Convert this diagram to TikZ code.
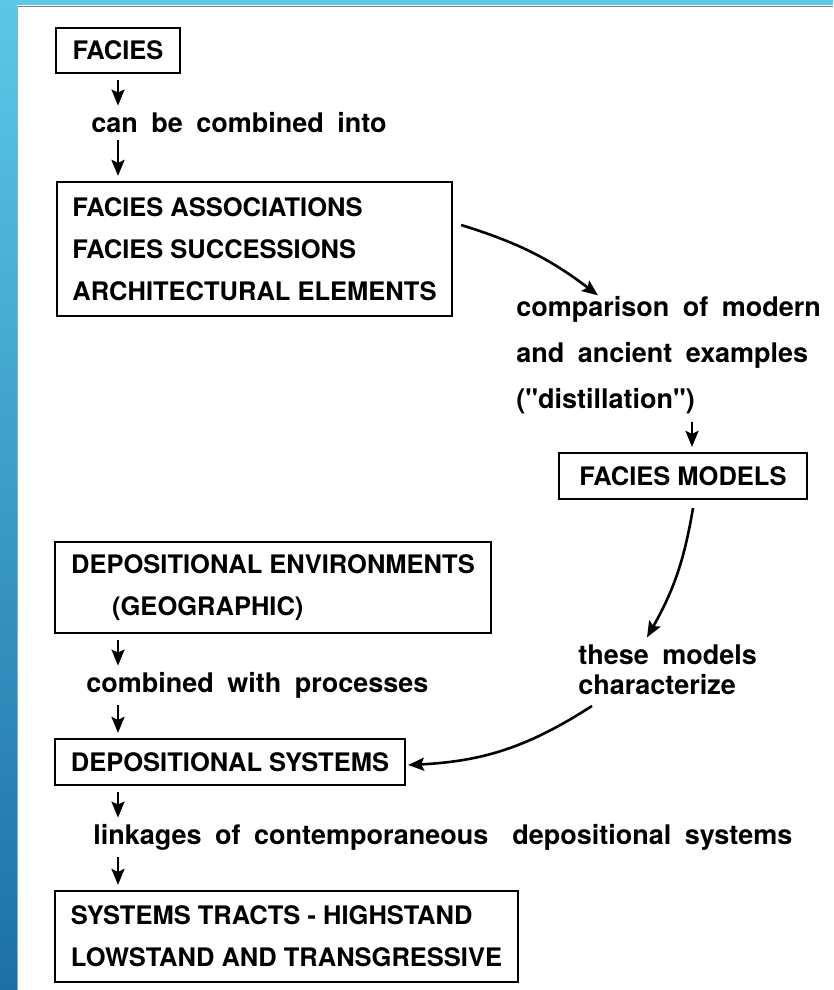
\documentclass[tikz,border=0pt]{standalone}
\usepackage{fontspec}
\newfontfamily\heros{TeX Gyre Heros}
\usepackage{tikz}
\usetikzlibrary{arrows.meta}
\definecolor{bandtop}{RGB}{92,200,232}
\definecolor{bandbot}{RGB}{28,112,165}
\protected\def\lblfont{\heros\fontsize{27pt}{30pt}\selectfont\bfseries\spaceskip=0.5em\relax}
\protected\def\widefont{\heros\fontsize{27pt}{46pt}\selectfont\bfseries\spaceskip=0.5em\relax}

\begin{document}
\begin{tikzpicture}[
x=1pt, y=-1pt, line width=2.6pt,
arr/.style = {-{Stealth[length=16pt,width=13pt,inset=3pt]}},
box/.style = {draw, rectangle, line width=2.2pt, inner sep=0pt, align=left, font=\heros\fontsize{25.5pt}{42pt}\selectfont\bfseries},
lbl/.style = {inner sep=0pt, align=left, font=\lblfont},
flow/.style = {arr, shorten <=6pt, shorten >=5pt}]
\useasboundingbox (0,0) rectangle (833,990);
% frame
\fill[white] (0,0) rectangle (833,990);
\fill[bandtop] (0,0) rectangle (833,5);
\shade[top color=bandtop, bottom color=bandbot] (0,0) rectangle (17,990);
\draw[gray, line width=0.8pt] (17,6) -- (833,6);
\draw[gray!70, line width=0.8pt] (17,6) -- (17,990);

\node[box, minimum width=124pt, minimum height=45pt] (facies) at (118,50.5) {FACIES};
\node[lbl, anchor=base west] (combine) at (90,132) {can be combined into};
\node[box, minimum width=395pt, minimum height=134pt] (assoc) at (254.5,249) {FACIES ASSOCIATIONS\\FACIES SUCCESSIONS\\ARCHITECTURAL ELEMENTS};
\node[lbl, anchor=north west, font=\widefont] (compare) at (515,295.4) {comparison of modern\\and ancient examples\\("distillation")};
\node[box, minimum width=248pt, minimum height=46pt] (models) at (683,476) {FACIES MODELS};
\node[lbl, anchor=north west] (these) at (577,643.4) {these models\\characterize};
\node[box, minimum width=436pt, minimum height=91pt] (depenv) at (273,587.5) {DEPOSITIONAL ENVIRONMENTS\\\hspace*{41pt}(GEOGRAPHIC)};
\node[lbl, anchor=base west] (combined) at (85,692) {combined with processes};
\node[box, minimum width=350pt, minimum height=46pt] (ds) at (230,762) {DEPOSITIONAL SYSTEMS};
\node[lbl, anchor=base west] (linkages) at (92,844) {linkages of contemporaneous\hspace{24pt}depositional systems};
\node[box, minimum width=463pt, minimum height=91pt] (tracts) at (286.5,936.5) {SYSTEMS TRACTS - HIGHSTAND\\LOWSTAND AND TRANSGRESSIVE};
\coordinate (mcol) at ([xshift=9pt]models.north);

\draw[flow] (facies.south) -- (facies |- combine.north);
\draw[flow] (facies |- combine.south) -- (facies |- assoc.north);
\draw[arr] ([xshift=8pt,yshift=24pt]assoc.east) to[bend left=10] ([xshift=83pt]compare.north west);
\draw[flow] (mcol |- compare.south) -- (mcol);
\draw[arr] ([xshift=10pt,yshift=-8pt]models.south) to[bend left=10] ([xshift=70pt,yshift=6pt]these.north west);
\draw[arr] ([xshift=15pt,yshift=-10pt]these.south west) to[bend left=15] ([xshift=2pt,yshift=-3pt]ds.east);
\draw[flow] (facies |- depenv.south) -- (facies |- combined.north);
\draw[flow] (facies |- combined.south) -- (facies |- ds.north);
\draw[flow] (facies |- ds.south) -- (facies |- linkages.north);
\draw[flow] (facies |- linkages.south) -- (facies |- tracts.north);
\end{tikzpicture}
\end{document}
